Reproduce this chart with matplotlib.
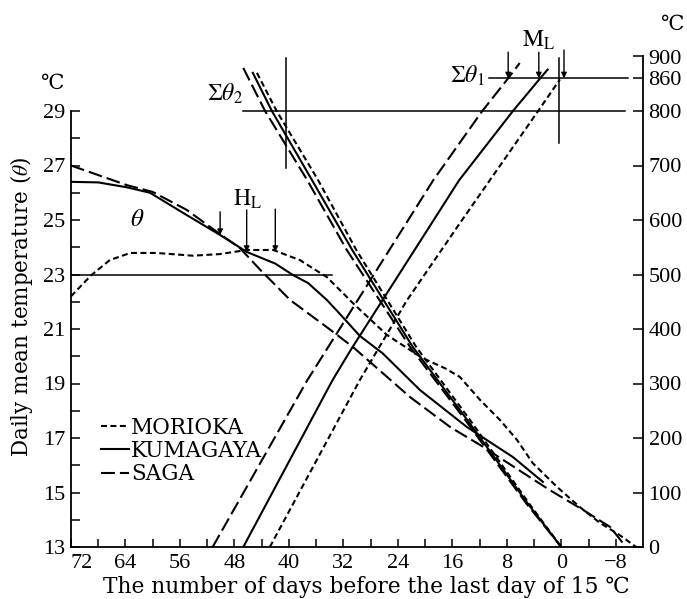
# daily mean temperature and accumulated temperature before the last day of 15 C

import matplotlib
matplotlib.use("Agg")
import matplotlib.pyplot as plt
from matplotlib.lines import Line2D

plt.rcParams['font.family'] = ['Liberation Serif', 'DejaVu Serif']
plt.rcParams['mathtext.fontset'] = 'stix'
plt.rcParams['lines.scale_dashes'] = False

stations = ['MORIOKA', 'KUMAGAYA', 'SAGA']

# daily mean temperature theta (left axis, deg C)
morioka_days = [72, 69.0, 66.3, 63.3, 59.4, 54.1, 50.1, 46.2, 42.3, 38.4, 34.4, 30.6,
                25.6, 20.5, 17.0, 14.9, 11.9, 9.0, 6.5, 4.2, 0.6, -2.7, -5.7, -8.5, -11.0]
morioka_temp = [22.2, 22.98, 23.53, 23.79, 23.79, 23.69, 23.75, 23.9, 23.9, 23.53, 22.9, 21.95,
                20.78, 19.95, 19.55, 19.24, 18.39, 17.66, 16.93, 16.08, 15.2, 14.47, 13.88, 13.45, 13.0]
kumagaya_days = [72, 68, 63.8, 60.4, 55.0, 50.1, 46.2, 42.0, 39.4, 37.2, 34.4, 32.1,
                 29.6, 26.2, 20.75, 13.85, 7.1, 2.7]
kumagaya_temp = [26.4, 26.38, 26.2, 26.0, 25.18, 24.45, 23.83, 23.4, 22.98, 22.69, 22.06, 21.44,
                 20.75, 20.1, 18.76, 17.4, 16.3, 15.39]
saga_days = [72, 63.8, 60.0, 55.0, 51.6, 47.2, 44.2, 39.8, 34.5, 30.6, 22.2, 16.3,
             11.9, 1.7, -3.2, -7.2, -9.5]
saga_temp = [27.0, 26.28, 26.03, 25.37, 24.75, 23.97, 23.17, 22.06, 21.08, 20.34, 18.5, 17.4,
             16.74, 15.09, 14.36, 13.73, 13.0]

# accumulated temperature from heading (sum theta 1, right axis)
morioka_s1_days = [42.8, 29.6, 22.7, 14.9, 3.4, 0.2]
morioka_s1 = [0, 306, 452, 594, 800, 858]
kumagaya_s1_days = [46.7, 33.6, 30.8, 15.0, 7.1, 3.1, 2.0]
kumagaya_s1 = [0, 306, 364, 673, 800, 860, 876]
saga_s1_days = [51.2, 37.3, 18.8, 11.6, 7.8, 6.1]
saga_s1 = [0, 306, 673, 800, 860, 888]

# accumulated temperature back from the last day of 15 C (sum theta 2, right axis)
morioka_s2_days = [44.7, 41.8, 35.7, 30.1, 21.3, 13.4, 4.8, 0.0]
morioka_s2 = [870, 800, 673, 545, 367, 233, 81, 0]
kumagaya_s2_days = [45.3, 42.5, 36.6, 30.7, 21.8, 13.8, 5.0, 0.0]
kumagaya_s2 = [870, 800, 673, 545, 367, 233, 81, 0]
saga_s2_days = [46.7, 43.5, 37.3, 31.5, 22.2, 14.1, 5.2, 0.0]
saga_s2 = [879, 800, 673, 545, 367, 233, 81, 0]

# heading (H_L) and maturity (M_L) markers, order SAGA, KUMAGAYA, MORIOKA
hl_days = [50.1, 46.2, 42.0]
hl_top = [25.3, 25.37, 25.4]
hl_tip = [24.45, 23.83, 23.83]
ml_days = [7.8, 3.3, -0.4]
ml_top = [908, 908, 912]
ml_tip = 860

# guide lines
guide23_days = [72, 33.7]
guide800_days = [46.7, -9.4]
guide860_days = [10.6, -9.8]
vline_left = (40.4, 695, 897)
vline_right = (0.3, 742, 898)

styles = {'MORIOKA': (0, (4.3, 2.5)), 'KUMAGAYA': '-', 'SAGA': (0, (10, 3.6))}
wide = ['DejaVu Serif']

fig = plt.figure(figsize=(6.87, 5.99), dpi=100)
ax = fig.add_axes([71/687, 52/599, 572/687, 490.5/599])
ax2 = ax.twinx()

ax.set_xlim(72, -12)
ax.set_ylim(13, 31)
ax2.set_ylim(0, 900)

lw = 1.5
theta = {'MORIOKA': (morioka_days, morioka_temp),
         'KUMAGAYA': (kumagaya_days, kumagaya_temp),
         'SAGA': (saga_days, saga_temp)}
s1 = {'MORIOKA': (morioka_s1_days, morioka_s1),
      'KUMAGAYA': (kumagaya_s1_days, kumagaya_s1),
      'SAGA': (saga_s1_days, saga_s1)}
s2 = {'MORIOKA': (morioka_s2_days, morioka_s2),
      'KUMAGAYA': (kumagaya_s2_days, kumagaya_s2),
      'SAGA': (saga_s2_days, saga_s2)}

for name in stations:
    ax.plot(*theta[name], color='k', lw=lw, ls=styles[name])
    ax2.plot(*s1[name], color='k', lw=lw, ls=styles[name])
    ax2.plot(*s2[name], color='k', lw=lw, ls=styles[name])

# guide lines
thin = 1.1
ax.plot(guide23_days, [23, 23], color='k', lw=thin)
ax2.plot(guide800_days, [800, 800], color='k', lw=thin)
ax2.plot(guide860_days, [860, 860], color='k', lw=thin)
ax2.plot([vline_left[0]] * 2, vline_left[1:], color='k', lw=thin)
ax2.plot([vline_right[0]] * 2, vline_right[1:], color='k', lw=thin)

for d, t0, t1 in zip(hl_days, hl_top, hl_tip):
    ax.annotate('', xy=(d, t1), xytext=(d, t0),
                arrowprops=dict(arrowstyle='-|>', lw=1, color='k', mutation_scale=8,
                                shrinkA=0, shrinkB=0))
for d, t0 in zip(ml_days, ml_top):
    ax2.annotate('', xy=(d, ml_tip), xytext=(d, t0),
                 arrowprops=dict(arrowstyle='-|>', lw=1, color='k', mutation_scale=8,
                                 shrinkA=0, shrinkB=0))

# labels in the plot
ax.text(62.3, 25.0, r'$\theta$', fontsize=18, ha='center', va='center')
ax.text(46.1, 25.75, r'$\mathrm{H}_\mathrm{L}$', fontsize=17, ha='center', va='center')
ax2.text(3.3, 930, r'$\mathrm{M}_\mathrm{L}$', fontsize=17, ha='center', va='center')
ax2.text(11.3, 865, r'$\Sigma\theta_1$', fontsize=17, ha='right', va='center')
ax2.text(49.4, 832, r'$\Sigma\theta_2$', fontsize=17, ha='center', va='center')

# axes and ticks
fs = 16
xt = list(range(72, -12, -4))
ax.set_xticks(xt)
ax.set_xticklabels([(str(t) if t >= 0 else '\u2212' + str(-t)) if t % 8 == 0 else '' for t in xt])
ax.xaxis.get_major_ticks()[0].label1.set_horizontalalignment('left')
yt = list(range(13, 30))
ax.set_yticks(yt)
ax.set_yticklabels([str(t) if t % 2 == 1 else '' for t in yt])
ax.tick_params(axis='x', direction='in', length=6, width=1.1, pad=5, labelsize=fs)
ax.tick_params(axis='y', direction='in', length=6.5, width=1.1, pad=4, labelsize=fs)
ax2.set_yticks([0, 100, 200, 300, 400, 500, 600, 700, 800, 860, 900])
ax2.tick_params(axis='y', direction='in', length=7, width=1.1, pad=4, labelsize=fs)

ax.spines['top'].set_visible(False)
ax.spines['right'].set_visible(False)
ax.spines['left'].set_bounds(13, 29)
for s in ['top', 'left', 'bottom']:
    ax2.spines[s].set_visible(False)
for sp in [ax.spines['left'], ax.spines['bottom'], ax2.spines['right']]:
    sp.set_linewidth(1.3)

handles = [Line2D([], [], color='k', lw=lw, ls=styles[n]) for n in stations]
ax.legend(handles, stations, loc='center left', bbox_to_anchor=(101/687, 1 - 451/599),
          bbox_transform=fig.transFigure, frameon=False,
          prop=dict(family=wide, size=15.5),
          handlelength=1.3, handletextpad=0.1, labelspacing=0.06,
          borderpad=0, borderaxespad=0)

fig.text(52/687, 1 - 84/599, '\u2103', fontsize=15, ha='center', va='center')
fig.text(672/687, 1 - 25/599, '\u2103', fontsize=15, ha='center', va='center')
fig.text(22/687, 1 - 307/599, r'Daily mean temperature ($\theta$)', rotation=90,
         family=wide, fontsize=15.5, ha='center', va='center')
fig.text(366/687, 1 - 587/599, 'The number of days before the last day of 15 \u2103',
         family=wide, fontsize=15.7, ha='center', va='center')

fig.savefig('out.png', dpi=100)
